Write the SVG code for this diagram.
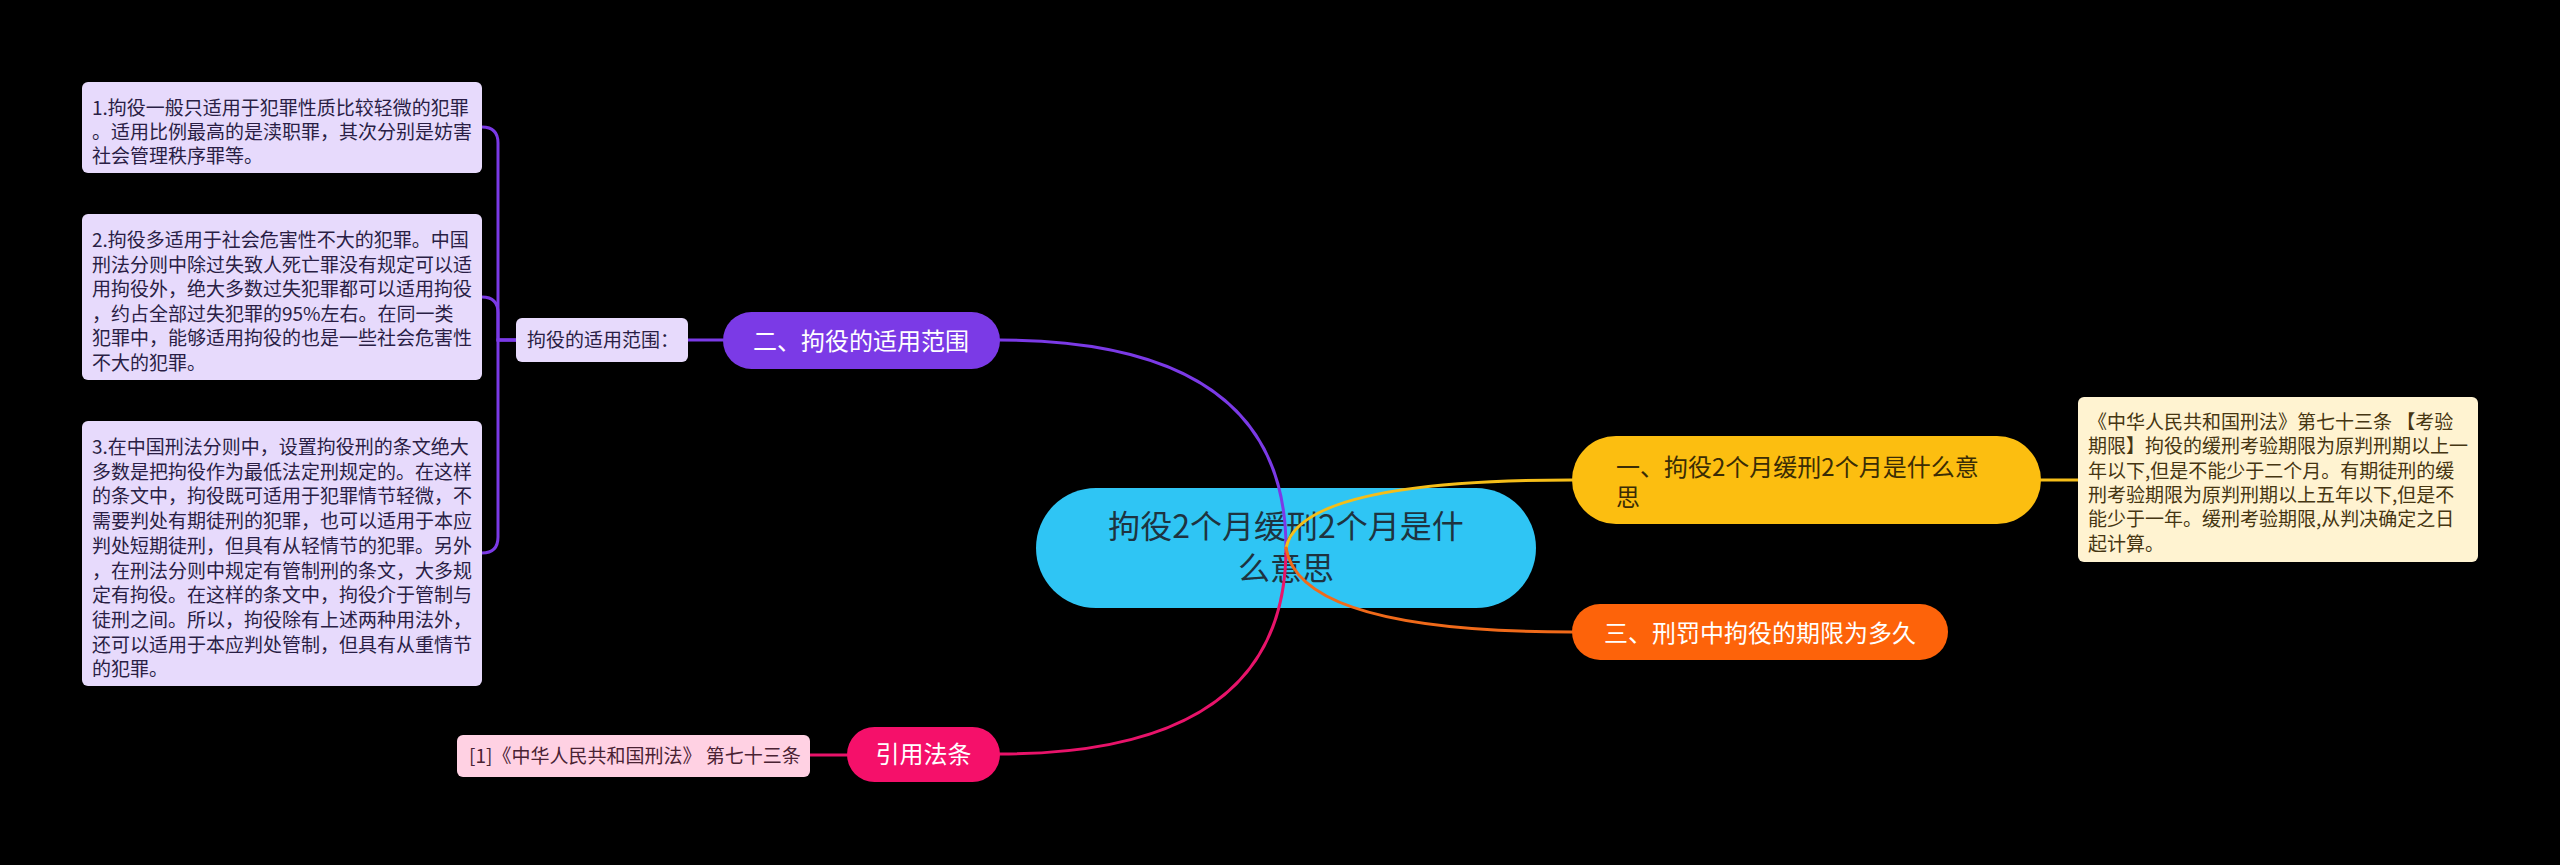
<svg xmlns="http://www.w3.org/2000/svg" width="2560" height="865" viewBox="0 0 2560 865">
<style>
text{font-family:"Noto Sans CJK SC","Noto Sans",sans-serif;}
.sm{font-size:19px;}
.pl{fill:#E7DAFC;}
.pt{fill:#2A1E45;}
.ln{fill:none;stroke-width:3;stroke-linecap:round;}
</style>
<rect x="0" y="0" width="2560" height="865" fill="#000"/>
<g id="center">
<rect x="1036" y="488" width="500" height="120" rx="60" fill="#2FC5F4"/>
<text x="1286" y="538" font-size="32" fill="#1E3340" text-anchor="middle">拘役2个月缓刑2个月是什</text>
<text x="1286" y="580" font-size="32" fill="#1E3340" text-anchor="middle">么意思</text>
</g>
<g id="connectors">
<path class="ln" stroke="#7B3AE6" d="M1286,548 Q1286,340 999,340"/>
<path class="ln" stroke="#E8136A" d="M1286,548 Q1286,754 999,754"/>
<path class="ln" stroke="#F5BE19" d="M1286,548 Q1300,480 1572,480"/>
<path class="ln" stroke="#F06A1A" d="M1286,548 Q1300,632 1572,632"/>
<path class="ln" stroke="#F5BE19" d="M2041,480 H2078"/>
<path class="ln" stroke="#E8136A" d="M847,755 H810"/>
<path class="ln" stroke="#7B3AE6" d="M723,340 H687"/>
<path class="ln" stroke="#7B3AE6" d="M516,340 H498 V143 Q498,127 482,127"/>
<path class="ln" stroke="#7B3AE6" d="M516,340 H498 V313 Q498,297 482,297"/>
<path class="ln" stroke="#7B3AE6" d="M516,340 H498 V537 Q498,553 482,553"/>
</g>
<g id="n-fanwei">
<rect x="723" y="312" width="277" height="57" rx="28.5" fill="#7B3AE6"/>
<text x="861" y="350" font-size="24" fill="#fff" text-anchor="middle">二、拘役的适用范围</text>
</g>
<g id="n-label">
<rect x="516" y="318" width="172" height="44" rx="6" class="pl"/>
<text x="527" y="347" class="sm pt">拘役的适用范围：</text>
</g>
<g id="n-box1">
<rect x="82" y="82" width="400" height="91" rx="6" class="pl"/>
<text class="sm pt"><tspan x="92" y="115">1.拘役一般只适用于犯罪性质比较轻微的犯罪</tspan><tspan x="92" y="139">。适用比例最高的是渎职罪，其次分别是妨害</tspan><tspan x="92" y="163">社会管理秩序罪等。</tspan></text>
</g>
<g id="n-box2">
<rect x="82" y="214" width="400" height="166" rx="6" class="pl"/>
<text class="sm pt"><tspan x="92" y="247">2.拘役多适用于社会危害性不大的犯罪。中国</tspan><tspan x="92" y="271.5">刑法分则中除过失致人死亡罪没有规定可以适</tspan><tspan x="92" y="296">用拘役外，绝大多数过失犯罪都可以适用拘役</tspan><tspan x="92" y="320.5">，约占全部过失犯罪的95%左右。在同一类</tspan><tspan x="92" y="345">犯罪中，能够适用拘役的也是一些社会危害性</tspan><tspan x="92" y="369.5">不大的犯罪。</tspan></text>
</g>
<g id="n-box3">
<rect x="82" y="421" width="400" height="265" rx="6" class="pl"/>
<text class="sm pt"><tspan x="92" y="454">3.在中国刑法分则中，设置拘役刑的条文绝大</tspan><tspan x="92" y="478.7">多数是把拘役作为最低法定刑规定的。在这样</tspan><tspan x="92" y="503.4">的条文中，拘役既可适用于犯罪情节轻微，不</tspan><tspan x="92" y="528.1">需要判处有期徒刑的犯罪，也可以适用于本应</tspan><tspan x="92" y="552.8">判处短期徒刑，但具有从轻情节的犯罪。另外</tspan><tspan x="92" y="577.5">，在刑法分则中规定有管制刑的条文，大多规</tspan><tspan x="92" y="602.2">定有拘役。在这样的条文中，拘役介于管制与</tspan><tspan x="92" y="626.9">徒刑之间。所以，拘役除有上述两种用法外，</tspan><tspan x="92" y="651.6">还可以适用于本应判处管制，但具有从重情节</tspan><tspan x="92" y="676.3">的犯罪。</tspan></text>
</g>
<g id="n-yi">
<rect x="1572" y="436" width="469" height="88" rx="44" fill="#FCBE10"/>
<text font-size="24" fill="#3A2C05"><tspan x="1616" y="476">一、拘役2个月缓刑2个月是什么意</tspan><tspan x="1616" y="506">思</tspan></text>
</g>
<g id="n-fatiao">
<rect x="2078" y="397" width="400" height="165" rx="6" fill="#FFF3D1"/>
<text class="sm" fill="#463612"><tspan x="2088" y="429">《中华人民共和国刑法》第七十三条 【考验</tspan><tspan x="2088" y="453.3">期限】拘役的缓刑考验期限为原判刑期以上一</tspan><tspan x="2088" y="477.6">年以下,但是不能少于二个月。有期徒刑的缓</tspan><tspan x="2088" y="501.9">刑考验期限为原判刑期以上五年以下,但是不</tspan><tspan x="2088" y="526.2">能少于一年。缓刑考验期限,从判决确定之日</tspan><tspan x="2088" y="550.5">起计算。</tspan></text>
</g>
<g id="n-san">
<rect x="1572" y="604" width="376" height="56" rx="28" fill="#FD630A"/>
<text x="1760" y="642" font-size="24" fill="#fff" text-anchor="middle">三、刑罚中拘役的期限为多久</text>
</g>
<g id="n-yinyong">
<rect x="847" y="727" width="153" height="55" rx="27.5" fill="#F5106A"/>
<text x="923.5" y="763" font-size="24" fill="#fff" text-anchor="middle">引用法条</text>
</g>
<g id="n-ref">
<rect x="457" y="735" width="353" height="42" rx="6" fill="#FFD1E3"/>
<text x="469" y="763" class="sm" fill="#4A2233">[1]《中华人民共和国刑法》 第七十三条</text>
</g>
</svg>
